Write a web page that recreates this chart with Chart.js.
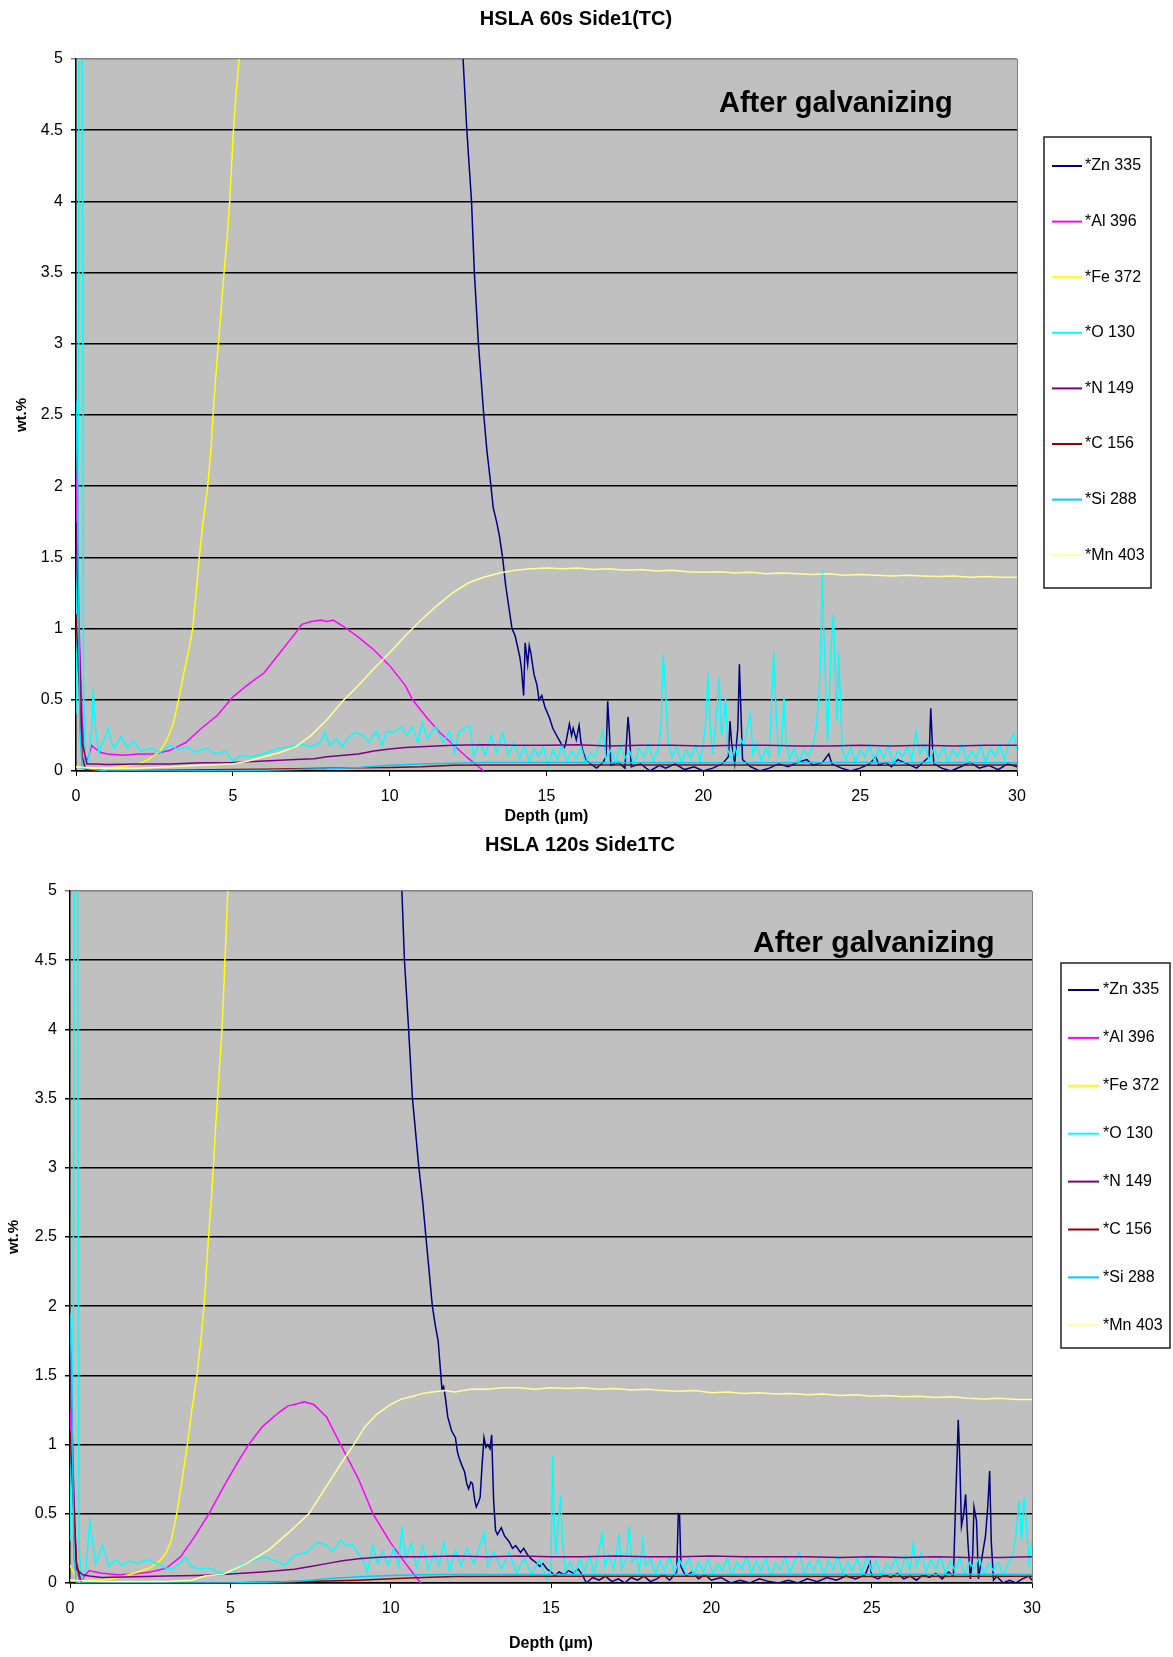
<!DOCTYPE html>
<html>
<head>
<meta charset="utf-8">
<title>HSLA GDOES profiles</title>
<script src="https://cdn.jsdelivr.net/npm/chart.js@4.4.1/dist/chart.umd.min.js"></script>
<style>
  body { margin: 0; background: #fff; }
  canvas { position: absolute; left: 0; }
  #c60 { top: 0; }
  #c120 { top: 830px; }
</style>
</head>
<body>
<canvas id="c60" width="1173" height="830"></canvas>
<canvas id="c120" width="1173" height="827"></canvas>
<script>
// series names and colours (same for both charts)
const seriesNames = ['*Zn 335', '*Al 396', '*Fe 372', '*O 130', '*N 149', '*C 156', '*Si 288', '*Mn 403'];
const seriesColors = ['#000080', '#FF00FF', '#FFFF00', '#00FFFF', '#800080', '#990000', '#00CCFF', '#FFFF99'];

// axis ticks
const depthTicks = [0, 5, 10, 15, 20, 25, 30];
const wtTicks = [0, 0.5, 1, 1.5, 2, 2.5, 3, 3.5, 4, 4.5, 5];

// ---------- HSLA 60s : [depth um, wt.%] ----------
const zn60 = [[0, 62], [5, 58], [10, 30], [12, 8], [12.34, 5], [12.46, 4.5], [12.61, 4], [12.7, 3.5], [12.83, 3], [13.0, 2.5], [13.1, 2.25], [13.23, 2.0],
  [13.3, 1.85], [13.41, 1.75], [13.5, 1.65], [13.6, 1.5], [13.7, 1.3], [13.8, 1.15], [13.9, 1.0], [14.0, 0.95], [14.1, 0.85], [14.15, 0.8], [14.2, 0.72],
  [14.27, 0.53], [14.32, 0.9], [14.4, 0.75], [14.45, 0.88], [14.5, 0.83], [14.6, 0.68], [14.7, 0.6], [14.76, 0.5], [14.85, 0.53], [14.95, 0.45], [15.1, 0.37],
  [15.2, 0.3], [15.37, 0.23], [15.45, 0.2], [15.55, 0.16], [15.6, 0.18], [15.73, 0.33], [15.8, 0.25], [15.85, 0.3], [15.95, 0.22], [16.04, 0.32], [16.1, 0.2],
  [16.16, 0.14], [16.25, 0.08], [16.4, 0.05], [16.6, 0.02], [16.8, 0.06], [16.9, 0.1], [16.95, 0.49], [17.0, 0.3], [17.05, 0.04], [17.3, 0.06], [17.5, 0.02],
  [17.6, 0.38], [17.65, 0.25], [17.7, 0.03], [18.0, 0.05], [18.3, 0.0], [18.6, 0.04], [18.8, 0.02], [19.1, 0.05], [19.4, 0.01], [19.7, 0.03], [20.0, 0.0],
  [20.3, 0.02], [20.6, 0.05], [20.8, 0.1], [20.85, 0.35], [20.9, 0.2], [21.0, 0.05], [21.1, 0.3], [21.15, 0.75], [21.2, 0.4], [21.25, 0.08], [21.5, 0.03],
  [21.8, 0.0], [22.1, 0.02], [22.4, 0.05], [22.7, 0.03], [23.0, 0.06], [23.3, 0.08], [23.5, 0.04], [23.8, 0.06], [24.0, 0.12], [24.1, 0.05], [24.4, 0.02],
  [24.7, 0.0], [25.0, 0.02], [25.3, 0.05], [25.5, 0.1], [25.6, 0.04], [25.8, 0.06], [26.0, 0.03], [26.2, 0.08], [26.5, 0.05], [26.8, 0.02], [27.0, 0.06],
  [27.2, 0.1], [27.25, 0.44], [27.3, 0.2], [27.35, 0.05], [27.6, 0.02], [27.9, 0.0], [28.2, 0.03], [28.5, 0.06], [28.8, 0.02], [29.1, 0.04], [29.4, 0.01],
  [29.7, 0.05], [30, 0.03]];
const al60 = [[0, 2.1], [0.1, 1.0], [0.2, 0.35], [0.3, 0.05], [0.4, 0.1], [0.5, 0.18], [0.6, 0.16], [0.8, 0.13], [1.0, 0.12], [1.5, 0.11], [2.0, 0.12],
  [2.5, 0.12], [3.0, 0.145], [3.5, 0.2], [4.0, 0.3], [4.5, 0.39], [5.0, 0.52], [5.5, 0.61], [6.0, 0.69], [6.5, 0.83], [7.0, 0.97], [7.2, 1.03], [7.5, 1.05],
  [7.8, 1.06], [8.0, 1.05], [8.2, 1.06], [8.5, 1.02], [9.0, 0.94], [9.5, 0.85], [10.0, 0.74], [10.5, 0.6], [10.73, 0.5], [11.2, 0.37], [11.6, 0.27],
  [12.0, 0.19], [12.5, 0.09], [13.0, 0.0]];
const fe60 = [[0, 0.03], [0.5, 0.02], [1, 0.02], [1.5, 0.03], [2, 0.05], [2.3, 0.08], [2.68, 0.14], [2.9, 0.22], [3.1, 0.33], [3.27, 0.5], [3.45, 0.7],
  [3.6, 0.85], [3.72, 1.0], [3.85, 1.3], [3.93, 1.5], [4.05, 1.75], [4.2, 2.0], [4.3, 2.25], [4.37, 2.5], [4.45, 2.75], [4.54, 3.0], [4.63, 3.25],
  [4.72, 3.5], [4.82, 3.75], [4.9, 4.0], [4.96, 4.25], [5.02, 4.5], [5.1, 4.75], [5.2, 5.0], [5.5, 6.5], [6, 10], [10, 60], [30, 95]];
const o60 = [[0, 0.4], [0.08, 2.5], [0.12, 9], [0.18, 7], [0.24, 0.6], [0.3, 0.05], [0.4, 0.08], [0.5, 0.3], [0.55, 0.58], [0.62, 0.3], [0.73, 0.13],
  [0.85, 0.2], [1.04, 0.3], [1.13, 0.2], [1.22, 0.16], [1.44, 0.24], [1.65, 0.16], [1.83, 0.21], [2.07, 0.14], [2.38, 0.16], [2.68, 0.13], [2.99, 0.18],
  [3.29, 0.15], [3.54, 0.17], [3.78, 0.13], [4.15, 0.16], [4.45, 0.12], [4.76, 0.14], [5.0, 0.07], [5.24, 0.11], [5.6, 0.1], [6.1, 0.13], [6.46, 0.16],
  [6.83, 0.17], [7.2, 0.19], [7.44, 0.17], [7.8, 0.2], [7.93, 0.27], [8.1, 0.18], [8.3, 0.23], [8.48, 0.17], [8.66, 0.23], [8.9, 0.27], [9.15, 0.25],
  [9.33, 0.2], [9.57, 0.28], [9.76, 0.18], [9.9, 0.28], [10.12, 0.27], [10.37, 0.31], [10.55, 0.25], [10.73, 0.31], [10.9, 0.2], [11.04, 0.34], [11.2, 0.23],
  [11.46, 0.31], [11.7, 0.2], [11.9, 0.28], [12.07, 0.13], [12.2, 0.27], [12.38, 0.3], [12.56, 0.32], [12.68, 0.1], [12.87, 0.2], [13.05, 0.11], [13.23, 0.25],
  [13.41, 0.13], [13.6, 0.27], [13.78, 0.11], [13.96, 0.2], [14.15, 0.09], [14.3, 0.18], [14.45, 0.07], [14.6, 0.16], [14.75, 0.1], [14.9, 0.17], [15.06, 0.03],
  [15.2, 0.15], [15.35, 0.08], [15.5, 0.19], [15.65, 0.06], [15.8, 0.14], [15.95, 0.09], [16.1, 0.17], [16.25, 0.05], [16.4, 0.13], [16.55, 0.1], [16.7, 0.2],
  [16.8, 0.28], [16.9, 0.08], [17.05, 0.15], [17.2, 0.06], [17.35, 0.18], [17.5, 0.09], [17.65, 0.14], [17.8, 0.05], [17.95, 0.16], [18.1, 0.1], [18.25, 0.19],
  [18.4, 0.07], [18.55, 0.15], [18.65, 0.3], [18.72, 0.82], [18.8, 0.55], [18.88, 0.2], [19.0, 0.1], [19.15, 0.17], [19.3, 0.06], [19.45, 0.15], [19.6, 0.09],
  [19.75, 0.18], [19.9, 0.07], [20.0, 0.2], [20.08, 0.35], [20.15, 0.69], [20.22, 0.3], [20.3, 0.12], [20.42, 0.4], [20.5, 0.66], [20.58, 0.25], [20.65, 0.35],
  [20.71, 0.51], [20.78, 0.15], [20.9, 0.08], [21.0, 0.17], [21.1, 0.1], [21.2, 0.22], [21.3, 0.18], [21.4, 0.3], [21.5, 0.4], [21.58, 0.12], [21.7, 0.19],
  [21.85, 0.07], [22.0, 0.16], [22.1, 0.1], [22.18, 0.5], [22.25, 0.84], [22.32, 0.4], [22.4, 0.12], [22.5, 0.2], [22.57, 0.52], [22.64, 0.2], [22.75, 0.08],
  [22.9, 0.16], [23.05, 0.06], [23.2, 0.15], [23.35, 0.1], [23.5, 0.18], [23.6, 0.3], [23.68, 0.5], [23.74, 0.8], [23.79, 1.41], [23.84, 1.0], [23.9, 0.6],
  [23.96, 0.2], [24.02, 0.55], [24.08, 0.9], [24.15, 1.1], [24.2, 0.7], [24.26, 0.35], [24.31, 0.83], [24.37, 0.5], [24.43, 0.15], [24.55, 0.08], [24.7, 0.17],
  [24.85, 0.06], [25.0, 0.15], [25.15, 0.1], [25.3, 0.19], [25.45, 0.07], [25.6, 0.16], [25.75, 0.09], [25.9, 0.18], [26.05, 0.05], [26.2, 0.14], [26.35, 0.1],
  [26.5, 0.17], [26.65, 0.08], [26.78, 0.28], [26.9, 0.12], [27.05, 0.19], [27.2, 0.07], [27.35, 0.16], [27.5, 0.09], [27.65, 0.18], [27.8, 0.06], [27.95, 0.15],
  [28.1, 0.1], [28.25, 0.19], [28.4, 0.07], [28.55, 0.14], [28.7, 0.09], [28.85, 0.18], [29.0, 0.06], [29.15, 0.16], [29.3, 0.1], [29.45, 0.19], [29.6, 0.08],
  [29.75, 0.2], [29.9, 0.26], [30, 0.15]];
const n60 = [[0, 1.75], [0.1, 0.9], [0.2, 0.2], [0.35, 0.05], [0.6, 0.05], [1, 0.045], [2, 0.05], [3, 0.05], [4, 0.058], [5, 0.06], [6, 0.07], [7, 0.08],
  [7.6, 0.086], [8, 0.1], [9, 0.12], [9.5, 0.14], [10, 0.155], [10.5, 0.165], [11, 0.17], [12, 0.18], [13, 0.185], [14, 0.18], [15, 0.18], [16, 0.185],
  [17, 0.175], [18, 0.18], [19, 0.18], [20, 0.175], [21, 0.18], [22, 0.18], [23, 0.175], [24, 0.175], [25, 0.18], [26, 0.175], [27, 0.18], [28, 0.175],
  [29, 0.18], [30, 0.18]];
const c60 = [[0, 1.1], [0.1, 0.6], [0.2, 0.1], [0.3, 0.01], [1, 0.0], [3, 0.005], [5, 0.01], [6, 0.012], [7, 0.015], [8, 0.02], [9, 0.022], [10, 0.025],
  [11, 0.03], [11.5, 0.035], [12, 0.04], [13, 0.042], [15, 0.042], [20, 0.042], [25, 0.041], [30, 0.042]];
const si60 = [[0, 2.6], [0.05, 2.0], [0.12, 0.3], [0.2, 0.02], [1, 0.0], [3, 0.0], [5, 0.003], [6, 0.006], [7, 0.01], [8, 0.015], [9, 0.025], [10, 0.04],
  [11, 0.05], [12, 0.055], [13, 0.059], [15, 0.059], [20, 0.058], [25, 0.059], [30, 0.058]];
const mn60 = [[0, 0.03], [0.5, 0.02], [1, 0.02], [2, 0.02], [3, 0.03], [4, 0.04], [5, 0.05], [5.5, 0.07], [6, 0.1], [6.5, 0.13], [7, 0.17], [7.5, 0.25],
  [8, 0.36], [8.5, 0.49], [9, 0.6], [9.5, 0.72], [10, 0.83], [10.5, 0.95], [11, 1.06], [11.5, 1.16], [12, 1.25], [12.5, 1.32], [13, 1.36], [13.5, 1.39],
  [14, 1.41], [14.5, 1.42], [15, 1.425], [15.5, 1.42], [16, 1.425], [16.5, 1.415], [17, 1.42], [17.5, 1.41], [18, 1.415], [18.5, 1.405], [19, 1.41],
  [19.5, 1.4], [20, 1.395], [20.5, 1.4], [21, 1.39], [21.5, 1.395], [22, 1.385], [22.5, 1.39], [23, 1.385], [23.5, 1.38], [24, 1.385], [24.5, 1.375],
  [25, 1.38], [25.5, 1.375], [26, 1.37], [26.5, 1.375], [27, 1.37], [27.5, 1.365], [28, 1.37], [28.5, 1.36], [29, 1.365], [29.5, 1.36], [30, 1.36]];

// ---------- HSLA 120s ----------
const zn120 = [[0, 62], [5, 58], [8, 30], [10, 8], [10.35, 5.0], [10.43, 4.5], [10.56, 4.0], [10.68, 3.5], [10.88, 3.0], [11.0, 2.75], [11.1, 2.5],
  [11.18, 2.3], [11.3, 2.0], [11.4, 1.85], [11.48, 1.75], [11.6, 1.4], [11.65, 1.42], [11.7, 1.35], [11.78, 1.2], [11.9, 1.1], [12.02, 1.05], [12.08, 0.95],
  [12.14, 0.9], [12.22, 0.85], [12.31, 0.8], [12.37, 0.72], [12.43, 0.68], [12.5, 0.73], [12.55, 0.72], [12.62, 0.6], [12.67, 0.55], [12.73, 0.58],
  [12.79, 0.62], [12.85, 0.85], [12.91, 1.05], [12.97, 0.98], [13.03, 1.0], [13.1, 0.97], [13.15, 1.07], [13.21, 0.6], [13.27, 0.38], [13.33, 0.35],
  [13.45, 0.4], [13.55, 0.34], [13.69, 0.3], [13.8, 0.25], [13.9, 0.27], [14.05, 0.22], [14.15, 0.25], [14.28, 0.2], [14.4, 0.17], [14.52, 0.15],
  [14.65, 0.12], [14.75, 0.14], [14.88, 0.1], [15.0, 0.08], [15.12, 0.05], [15.25, 0.08], [15.4, 0.06], [15.55, 0.09], [15.7, 0.07], [15.85, 0.1],
  [16.0, 0.05], [16.1, 0.0], [16.2, 0.02], [16.3, 0.04], [16.5, 0.02], [16.7, 0.05], [16.9, 0.01], [17.1, 0.03], [17.3, 0.0], [17.5, 0.04], [17.7, 0.02],
  [17.9, 0.05], [18.1, 0.01], [18.3, 0.03], [18.5, 0.06], [18.7, 0.02], [18.92, 0.08], [18.97, 0.5], [19.01, 0.49], [19.05, 0.12], [19.2, 0.05], [19.4, 0.08],
  [19.6, 0.03], [19.8, 0.06], [20.0, 0.02], [20.3, 0.04], [20.6, 0.0], [20.9, 0.02], [21.2, 0.0], [21.5, 0.03], [21.8, 0.01], [22.1, 0.0], [22.4, 0.02],
  [22.7, 0.0], [23.0, 0.03], [23.3, 0.01], [23.6, 0.04], [23.9, 0.02], [24.2, 0.05], [24.5, 0.03], [24.8, 0.06], [24.95, 0.15], [25.0, 0.05], [25.2, 0.03],
  [25.4, 0.06], [25.6, 0.04], [25.8, 0.07], [26.0, 0.03], [26.2, 0.05], [26.4, 0.02], [26.6, 0.06], [26.8, 0.04], [27.0, 0.07], [27.2, 0.03], [27.4, 0.08],
  [27.55, 0.05], [27.62, 0.6], [27.7, 1.18], [27.74, 0.95], [27.8, 0.41], [27.87, 0.5], [27.93, 0.64], [28.0, 0.3], [28.08, 0.03], [28.15, 0.2],
  [28.19, 0.55], [28.27, 0.45], [28.33, 0.03], [28.45, 0.2], [28.55, 0.34], [28.62, 0.55], [28.68, 0.81], [28.73, 0.3], [28.8, 0.02], [28.9, 0.05],
  [29.1, 0.0], [29.3, 0.02], [29.5, 0.0], [29.7, 0.03], [29.9, 0.05], [30, 0.02]];
const al120 = [[0, 1.25], [0.1, 0.6], [0.2, 0.15], [0.3, 0.0], [0.45, 0.05], [0.6, 0.09], [0.8, 0.08], [1, 0.07], [1.5, 0.06], [2, 0.065], [2.5, 0.08],
  [3.0, 0.106], [3.45, 0.19], [3.87, 0.33], [4.33, 0.5], [4.8, 0.7], [5.2, 0.86], [5.57, 1.0], [6, 1.13], [6.5, 1.23], [6.8, 1.28], [7.0, 1.29], [7.3, 1.31],
  [7.6, 1.29], [8, 1.2], [8.44, 1.0], [9.0, 0.75], [9.45, 0.5], [10, 0.29], [10.5, 0.13], [10.94, 0.0]];
const fe120 = [[0, 0.13], [0.15, 0.06], [0.3, 0.0], [0.6, 0.02], [1, 0.02], [1.5, 0.04], [2, 0.07], [2.5, 0.11], [2.8, 0.16], [3.0, 0.22], [3.15, 0.3],
  [3.33, 0.5], [3.5, 0.75], [3.66, 1.0], [3.8, 1.25], [3.96, 1.5], [4.08, 1.75], [4.18, 2.0], [4.25, 2.25], [4.32, 2.5], [4.4, 2.75], [4.47, 3.0],
  [4.53, 3.25], [4.6, 3.5], [4.67, 3.75], [4.74, 4.0], [4.79, 4.25], [4.83, 4.5], [4.88, 4.75], [4.92, 5.0], [5.2, 6.5], [6, 15], [30, 95]];
const o120 = [[0, 0.3], [0.1, 1.8], [0.17, 9], [0.22, 7], [0.28, 0.3], [0.35, 0.02], [0.5, 0.1], [0.62, 0.45], [0.8, 0.14], [1.01, 0.27], [1.22, 0.12],
  [1.4, 0.17], [1.63, 0.13], [1.87, 0.16], [2.11, 0.14], [2.41, 0.17], [2.71, 0.14], [2.95, 0.11], [3.19, 0.1], [3.42, 0.14], [3.6, 0.19], [3.78, 0.12],
  [4.02, 0.1], [4.32, 0.11], [4.62, 0.08], [4.98, 0.06], [5.33, 0.13], [5.69, 0.16], [6.05, 0.19], [6.41, 0.16], [6.71, 0.13], [7.0, 0.2], [7.36, 0.22],
  [7.72, 0.29], [7.96, 0.28], [8.2, 0.23], [8.44, 0.31], [8.62, 0.27], [8.8, 0.28], [8.97, 0.22], [9.15, 0.16], [9.27, 0.08], [9.45, 0.27], [9.6, 0.14],
  [9.75, 0.23], [9.92, 0.13], [10.1, 0.25], [10.25, 0.12], [10.35, 0.41], [10.47, 0.17], [10.64, 0.29], [10.8, 0.12], [11.0, 0.27], [11.17, 0.1],
  [11.36, 0.22], [11.5, 0.12], [11.66, 0.29], [11.84, 0.09], [12.02, 0.24], [12.2, 0.12], [12.37, 0.25], [12.6, 0.14], [12.79, 0.28], [12.91, 0.36],
  [13.03, 0.12], [13.21, 0.23], [13.45, 0.1], [13.69, 0.22], [13.93, 0.07], [14.17, 0.18], [14.4, 0.06], [14.64, 0.17], [14.88, 0.02], [15.0, 0.1],
  [15.05, 0.92], [15.1, 0.45], [15.15, 0.2], [15.22, 0.4], [15.3, 0.63], [15.36, 0.3], [15.45, 0.08], [15.6, 0.15], [15.75, 0.06], [15.9, 0.17], [16.05, 0.09],
  [16.2, 0.2], [16.35, 0.07], [16.5, 0.25], [16.6, 0.35], [16.68, 0.12], [16.8, 0.2], [16.95, 0.1], [17.05, 0.22], [17.12, 0.36], [17.2, 0.1], [17.35, 0.18],
  [17.44, 0.41], [17.52, 0.15], [17.65, 0.2], [17.75, 0.08], [17.86, 0.31], [17.95, 0.12], [18.1, 0.18], [18.25, 0.06], [18.4, 0.16], [18.55, 0.09],
  [18.7, 0.19], [18.85, 0.07], [19.0, 0.17], [19.15, 0.1], [19.3, 0.18], [19.45, 0.05], [19.6, 0.15], [19.75, 0.08], [19.9, 0.17], [20.05, 0.06], [20.2, 0.14],
  [20.35, 0.09], [20.5, 0.18], [20.65, 0.05], [20.8, 0.15], [20.95, 0.1], [21.1, 0.19], [21.25, 0.07], [21.4, 0.16], [21.55, 0.09], [21.7, 0.18], [21.85, 0.05],
  [22.0, 0.14], [22.15, 0.1], [22.3, 0.19], [22.45, 0.07], [22.6, 0.16], [22.75, 0.22], [22.9, 0.06], [23.05, 0.15], [23.2, 0.09], [23.35, 0.18], [23.5, 0.05],
  [23.65, 0.16], [23.8, 0.1], [23.95, 0.19], [24.1, 0.07], [24.25, 0.15], [24.4, 0.09], [24.55, 0.18], [24.7, 0.06], [24.85, 0.2], [25.0, 0.09], [25.15, 0.16],
  [25.3, 0.05], [25.45, 0.14], [25.6, 0.1], [25.75, 0.18], [25.9, 0.07], [26.05, 0.2], [26.2, 0.1], [26.3, 0.29], [26.4, 0.12], [26.55, 0.22], [26.7, 0.08],
  [26.85, 0.17], [27.0, 0.1], [27.15, 0.19], [27.3, 0.07], [27.45, 0.16], [27.6, 0.09], [27.75, 0.18], [27.9, 0.06], [28.05, 0.15], [28.2, 0.1], [28.35, 0.19],
  [28.5, 0.06], [28.65, 0.14], [28.8, 0.09], [28.95, 0.15], [29.1, 0.05], [29.25, 0.14], [29.4, 0.2], [29.5, 0.35], [29.6, 0.6], [29.68, 0.3], [29.75, 0.62],
  [29.82, 0.45], [29.9, 0.15], [30, 0.31]];
const n120 = [[0, 1.75], [0.1, 0.8], [0.2, 0.1], [0.4, 0.06], [0.6, 0.05], [1, 0.04], [2, 0.045], [3, 0.05], [4, 0.055], [5, 0.065], [6, 0.08], [7, 0.1],
  [7.5, 0.12], [8, 0.14], [8.5, 0.16], [9, 0.175], [9.5, 0.185], [10, 0.19], [11, 0.19], [12, 0.195], [13, 0.19], [14, 0.195], [15, 0.19], [16, 0.19],
  [17, 0.195], [18, 0.19], [19, 0.19], [20, 0.195], [21, 0.19], [22, 0.19], [23, 0.19], [24, 0.185], [25, 0.19], [26, 0.185], [27, 0.19], [28, 0.185],
  [29, 0.185], [30, 0.19]];
const c120 = [[0, 1.1], [0.1, 0.6], [0.2, 0.15], [0.35, 0.0], [2, 0.0], [5, 0.0], [6, 0.005], [7, 0.01], [8, 0.015], [9, 0.02], [10, 0.03], [11, 0.04],
  [12, 0.047], [15, 0.048], [20, 0.048], [25, 0.047], [30, 0.048]];
const si120 = [[0, 1.95], [0.05, 1.5], [0.12, 0.2], [0.2, 0.0], [3, 0.0], [5, 0.0], [6, 0.005], [7, 0.01], [7.5, 0.02], [8, 0.03], [9, 0.045], [10, 0.055],
  [11, 0.06], [12, 0.062], [15, 0.062], [20, 0.062], [25, 0.063], [30, 0.062]];
const mn120 = [[0, 0.02], [1, 0.01], [2, 0.01], [3, 0.01], [3.8, 0.02], [4.2, 0.05], [4.8, 0.065], [5.5, 0.14], [6.2, 0.24], [6.8, 0.36], [7.45, 0.5],
  [8, 0.7], [8.5, 0.88], [8.85, 1.0], [9.2, 1.13], [9.57, 1.22], [10, 1.29], [10.35, 1.33], [10.7, 1.35], [11.0, 1.37], [11.3, 1.38], [11.7, 1.39],
  [12, 1.38], [12.5, 1.4], [13, 1.4], [13.5, 1.41], [14, 1.41], [14.5, 1.4], [15, 1.41], [15.5, 1.405], [16, 1.41], [16.5, 1.4], [17, 1.405], [17.5, 1.395],
  [18, 1.4], [18.5, 1.39], [19, 1.385], [19.5, 1.39], [20, 1.375], [20.5, 1.38], [21, 1.37], [21.5, 1.375], [22, 1.365], [22.5, 1.37], [23, 1.36],
  [23.5, 1.365], [24, 1.355], [24.5, 1.36], [25, 1.35], [25.5, 1.355], [26, 1.345], [26.5, 1.35], [27, 1.34], [27.5, 1.345], [28, 1.335], [28.5, 1.33],
  [29, 1.335], [29.5, 1.325], [30, 1.325]];

Chart.defaults.font.family = "'Liberation Sans', Arial, sans-serif";
Chart.defaults.color = '#000';

// grey plot area, border, titles and the boxed legend
const decorPlugin = {
  id: 'decor',
  beforeDraw(chart) {
    let a = chart.chartArea;
    let ctx = chart.ctx;
    ctx.save();
    ctx.fillStyle = '#C0C0C0';
    ctx.fillRect(a.left, a.top, a.right - a.left, a.bottom - a.top);
    ctx.restore();
  },
  afterDraw(chart, args, opts) {
    let a = chart.chartArea;
    let ctx = chart.ctx;
    ctx.save();
    // plot border on the right
    ctx.strokeStyle = '#808080';
    ctx.lineWidth = 1;
    ctx.beginPath();
    ctx.moveTo(a.right + 0.5, a.top);
    ctx.lineTo(a.right + 0.5, a.bottom);
    ctx.stroke();

    // chart title
    ctx.fillStyle = '#000';
    ctx.textAlign = 'center';
    ctx.textBaseline = 'middle';
    ctx.font = "bold 20px 'Liberation Sans', Arial, sans-serif";
    ctx.fillText(opts.title, opts.titleX, opts.titleY);

    // note inside the plot
    ctx.textAlign = 'left';
    ctx.font = 'bold ' + opts.noteSize + "px 'Liberation Sans', Arial, sans-serif";
    ctx.fillText(opts.note, opts.noteX, opts.noteY);

    // legend
    let lg = opts.legend;
    ctx.fillStyle = '#fff';
    ctx.fillRect(lg.x, lg.y, lg.w, lg.h);
    ctx.strokeStyle = '#222';
    ctx.lineWidth = 1.5;
    ctx.strokeRect(lg.x, lg.y, lg.w, lg.h);
    ctx.font = "16px 'Liberation Sans', Arial, sans-serif";
    chart.data.datasets.forEach(function(ds, i) {
      let y = lg.firstY + i * lg.step;
      ctx.strokeStyle = ds.borderColor;
      ctx.lineWidth = 2;
      ctx.beginPath();
      ctx.moveTo(lg.lineX1, y);
      ctx.lineTo(lg.lineX2, y);
      ctx.stroke();
      ctx.fillStyle = '#000';
      ctx.fillText(ds.label, lg.textX, y);
    });
    ctx.restore();
  }
};

function makeChart(canvasId, series, cfg) {
  let datasets = series.map(function(s, i) {
    return {
      label: seriesNames[i],
      data: s.map(p => ({ x: p[0], y: p[1] })),
      borderColor: seriesColors[i],
      borderWidth: 1.5,
      pointRadius: 0,
      fill: false,
      tension: 0,
      order: series.length - i
    };
  });

  return new Chart(document.getElementById(canvasId), {
    type: 'line',
    data: { datasets: datasets },
    plugins: [decorPlugin],
    options: {
      responsive: false,
      animation: false,
      events: [],
      layout: { padding: cfg.padding },
      plugins: {
        legend: { display: false },
        tooltip: { enabled: false },
        decor: cfg.decor
      },
      scales: {
        x: {
          type: 'linear',
          min: 0,
          max: 30,
          afterBuildTicks: s => { s.ticks = depthTicks.map(v => ({ value: v })); },
          afterFit: s => { s.height = cfg.xHeight; },
          ticks: { font: { size: 16 }, padding: 11, maxRotation: 0, autoSkip: false, color: '#000' },
          grid: { drawOnChartArea: false, drawTicks: true, tickLength: 5, color: '#000', lineWidth: 1 },
          border: { color: '#000', width: 1.5 },
          title: { display: true, text: 'Depth (µm)', font: { size: 16, weight: 'bold' }, color: '#000', padding: { top: 0, bottom: 4 } }
        },
        y: {
          min: 0,
          max: 5,
          afterBuildTicks: s => { s.ticks = wtTicks.map(v => ({ value: v })); },
          afterFit: s => { s.width = cfg.yWidth; },
          ticks: { font: { size: 16 }, padding: 8, color: '#000', callback: v => String(v) },
          grid: {
            color: c => (c.tick && c.tick.value === 5 ? '#808080' : '#000'),
            lineWidth: 1.5,
            drawTicks: true,
            tickLength: 5
          },
          border: { color: '#000', width: 1.5 },
          title: { display: true, text: 'wt.%', font: { size: 15, weight: 'bold' }, color: '#000', padding: { top: cfg.yTitlePad, bottom: 0 } }
        }
      }
    }
  });
}

makeChart('c60', [zn60, al60, fe60, o60, n60, c60, si60, mn60], {
  padding: { left: 0, top: 59, right: 156, bottom: 0 },
  xHeight: 59,
  yWidth: 76,
  yTitlePad: 13,
  decor: {
    title: 'HSLA 60s Side1(TC)', titleX: 576, titleY: 19,
    note: 'After galvanizing', noteX: 719, noteY: 104, noteSize: 29,
    legend: { x: 1044, y: 137, w: 107, h: 451, firstY: 166, step: 55.6, lineX1: 1052, lineX2: 1082, textX: 1085 }
  }
});

makeChart('c120', [zn120, al120, fe120, o120, n120, c120, si120, mn120], {
  padding: { left: 0, top: 61, right: 141, bottom: 0 },
  xHeight: 74,
  yWidth: 70,
  yTitlePad: 5,
  decor: {
    title: 'HSLA 120s Side1TC', titleX: 580, titleY: 15,
    note: 'After galvanizing', noteX: 753, noteY: 114, noteSize: 30,
    legend: { x: 1061, y: 133, w: 109, h: 385, firstY: 160, step: 47.9, lineX1: 1068, lineX2: 1099, textX: 1103 }
  }
});
</script>
